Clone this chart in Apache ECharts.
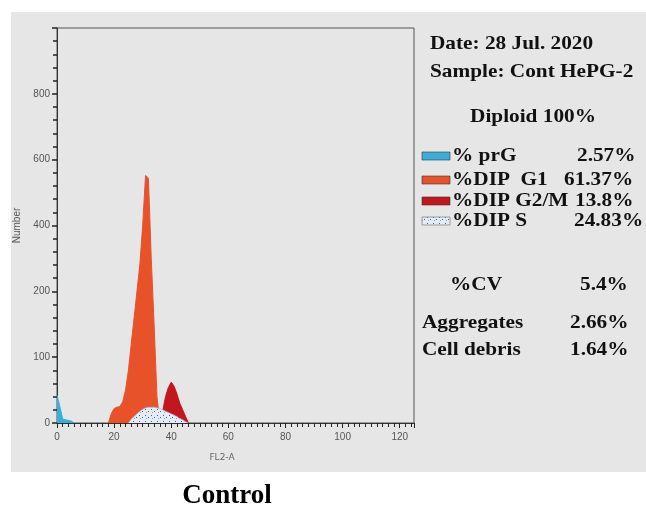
<!DOCTYPE html>
<html>
<head>
<meta charset="utf-8">
<title>Control - HePG-2 cell cycle</title>
<script src="https://cdn.jsdelivr.net/npm/echarts@6/dist/echarts.min.js"></script>
<style>
    html, body { margin: 0; padding: 0; background: #fff; }
    #main { width: 646px; height: 511px; }
</style>
</head>
<body>
<div id="main"></div>
<script>
// histogram channels (FL2-A) and counts
var prgChannels = [0, 1, 2, 3, 4, 5, 6];
var prgCounts = [42, 25, 6, 5, 4, 3, 0];

var g1Channels = [18, 19, 20, 21, 22, 23, 24, 25, 26, 27, 28, 29, 30, 31, 32, 33, 34, 35, 36];
var g1Counts = [0, 14, 22, 24, 25, 32, 50, 80, 120, 160, 200, 240, 300, 376, 372, 250, 150, 40, 0];

var g2mChannels = [37, 38, 39, 40, 41, 42, 43, 44, 45, 46];
var g2mCounts = [18, 40, 54, 62, 56, 44, 30, 20, 10, 0];

var sChannels = [25, 26, 27, 28, 29, 30, 31, 32, 33, 34, 35, 36, 37, 38, 39, 40, 41, 42, 43, 44, 45, 46];
var sCounts = [0, 6, 10, 14, 18, 21, 23, 24, 24, 24, 23, 22, 20, 18, 16, 14, 12, 10, 7, 5, 2, 0];

// tick labels as printed on the y axis (one per 100 step)
var yTickLabels = ['0', '100', '200', '400', '600', '800'];
var xTickLabels = ['0', '20', '40', '60', '80', '100', '120'];

// legend / stats panel
var legendNames = ['% prG', '%DIP  G1', '%DIP G2/M', '%DIP S'];
var legendValues = ['2.57%', '61.37%', '13.8%', '24.83%'];
var statNames = ['%CV', 'Aggregates', 'Cell debris'];
var statValues = ['5.4%', '2.66%', '1.64%'];

var colors = {
    prg: '#3aaed8',
    g1: '#e8522a',
    g2m: '#c3161f',
    sBg: '#e4ebf3',
    sDot: '#3d5f9e',
    panel: '#e6e6e6'
};

function pairs(xs, ys) {
    var out = [];
    for (var i = 0; i < xs.length; i++) {
        out.push([xs[i], ys[i]]);
    }
    return out;
}

// dotted fill for the S phase
function dotPattern() {
    var c = document.createElement('canvas');
    c.width = 6;
    c.height = 6;
    var ctx = c.getContext('2d');
    ctx.fillStyle = colors.sBg;
    ctx.fillRect(0, 0, 6, 6);
    ctx.fillStyle = colors.sDot;
    ctx.fillRect(1, 1, 1, 1);
    ctx.fillRect(4, 3, 1, 1);
    ctx.fillStyle = '#8aa2c8';
    ctx.fillRect(2, 4, 1, 1);
    return c;
}

var serifFont = '"Liberation Serif", "DejaVu Serif", serif';

function txt(x, y, s, size, align) {
    return {
        type: 'text',
        x: x,
        y: y,
        scaleX: 1.12,
        z: 10,
        style: {
            text: s,
            font: 'bold ' + size + 'px ' + serifFont,
            fill: '#111',
            textAlign: align || 'left',
            align: align || 'left',
            textVerticalAlign: 'middle',
            verticalAlign: 'middle'
        }
    };
}

function buildGraphics() {
    var g = [];
    // gray backdrop of the instrument printout
    g.push({
        type: 'rect',
        z: -10,
        shape: { x: 11, y: 12, width: 635, height: 460 },
        style: { fill: colors.panel }
    });
    g.push(txt(430, 44, 'Date: 28 Jul. 2020', 19));
    g.push(txt(430, 72, 'Sample: Cont HePG-2', 19));
    g.push(txt(533, 117, 'Diploid 100%', 19, 'center'));

    var rowY = [156, 180, 201, 221];
    var valX = [577, 564, 575, 574];
    var swatch = [colors.prg, colors.g1, colors.g2m, null];
    for (var i = 0; i < legendNames.length; i++) {
        g.push({
            type: 'rect',
            z: 10,
            shape: { x: 422, y: rowY[i] - 4, width: 28, height: 8 },
            style: swatch[i] ? { fill: swatch[i], stroke: '#333', lineWidth: 0.6 }
                             : { fill: { image: dotPattern(), repeat: 'repeat' }, stroke: '#888', lineWidth: 0.8 }
        });
        g.push(txt(452, rowY[i], legendNames[i], 19));
        g.push(txt(valX[i], rowY[i], legendValues[i], 19));
    }

    var statY = [285, 323, 350];
    var statX = [450, 422, 422];
    var statValX = [580, 570, 570];
    for (var j = 0; j < statNames.length; j++) {
        g.push(txt(statX[j], statY[j], statNames[j], 19));
        g.push(txt(statValX[j], statY[j], statValues[j], 19));
    }

    // x axis title
    g.push({
        type: 'text',
        x: 222,
        y: 458,
        z: 10,
        style: {
            text: 'FL2-A',
            font: '9px "DejaVu Sans", sans-serif',
            fill: '#666',
            textAlign: 'center', align: 'center',
            textVerticalAlign: 'middle', verticalAlign: 'middle'
        }
    });
    // caption under the printout
    g.push({
        type: 'text',
        x: 227,
        y: 496,
        z: 10,
        style: {
            text: 'Control',
            font: 'bold 27px ' + serifFont,
            fill: '#000',
            textAlign: 'center', align: 'center',
            textVerticalAlign: 'middle', verticalAlign: 'middle'
        }
    });
    return g;
}

function areaSeries(name, data, color, z) {
    return {
        name: name,
        type: 'line',
        symbol: 'none',
        z: z,
        data: data,
        lineStyle: { width: 1, color: color },
        areaStyle: { color: color, opacity: 1 },
        silent: true
    };
}

var chart = echarts.init(document.getElementById('main'));

var dome = areaSeries('%DIP S', pairs(sChannels, sCounts), colors.sDot, 5);
dome.lineStyle = { width: 0.6, color: '#9fb3d3' };
dome.areaStyle = { color: { image: dotPattern(), repeat: 'repeat' }, opacity: 1 };

var tickStyle = { color: '#222', width: 1 };

chart.setOption({
    backgroundColor: '#fff',
    animation: false,
    grid: {
        left: 57,
        right: 232,
        top: 28,
        bottom: 88,
        show: true,
        backgroundColor: 'transparent',
        borderColor: '#555',
        borderWidth: 1
    },
    xAxis: {
        type: 'value',
        min: 0,
        max: 125,
        interval: 20,
        splitLine: { show: false },
        minorSplitLine: { show: false },
        axisLine: { lineStyle: { color: '#333' } },
        axisTick: { length: 5, lineStyle: tickStyle },
        minorTick: { show: true, splitNumber: 10, length: 4, lineStyle: tickStyle },
        axisLabel: {
            margin: 9,
            fontSize: 10,
            color: '#555',
            showMaxLabel: false,
            formatter: function (v) {
                return xTickLabels[v / 20] || '';
            }
        }
    },
    yAxis: {
        type: 'value',
        min: 0,
        max: 600,
        interval: 100,
        name: 'Number',
        nameLocation: 'middle',
        nameGap: 32,
        nameRotate: 90,
        nameTextStyle: { fontSize: 10, color: '#555' },
        splitLine: { show: false },
        minorSplitLine: { show: false },
        axisLine: { show: true, lineStyle: { color: '#333' } },
        axisTick: { length: 5, lineStyle: { color: '#222', width: 1.5 } },
        minorTick: { show: true, splitNumber: 5, length: 4, lineStyle: { color: '#222', width: 1.5 } },
        axisLabel: {
            margin: 7,
            fontSize: 10,
            color: '#555',
            showMaxLabel: false,
            formatter: function (v) {
                return yTickLabels[v / 100] || '';
            }
        }
    },
    graphic: buildGraphics(),
    series: [
        areaSeries('% prG', pairs(prgChannels, prgCounts), colors.prg, 2),
        areaSeries('%DIP G1', pairs(g1Channels, g1Counts), colors.g1, 3),
        areaSeries('%DIP G2/M', pairs(g2mChannels, g2mCounts), colors.g2m, 4),
        dome
    ]
});
</script>
</body>
</html>
